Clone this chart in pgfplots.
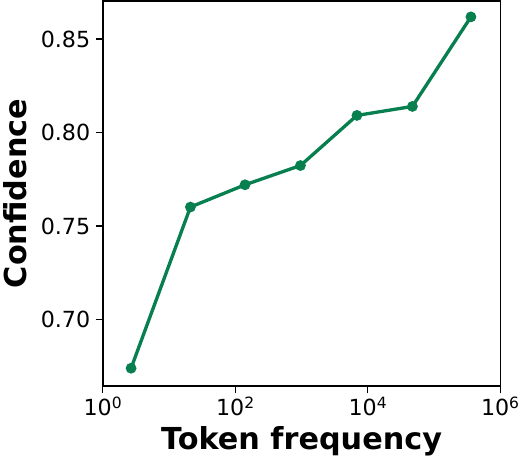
\documentclass[border=0pt]{standalone}
\usepackage{pgfplots}
\pgfplotsset{compat=1.18}
\usepackage{fontspec}
\setmainfont{DejaVu Sans}
\definecolor{lc}{HTML}{077F4F}
\begin{document}
\begin{tikzpicture}
\begin{axis}[
  scale only axis,
  width=394pt, height=382pt,
  xmode=log,
  xmin=1, xmax=1e6,
  ymin=0.6644, ymax=0.8705,
  xtick={1,1e2,1e4,1e6},
  xticklabels={10\textsuperscript{0},10\textsuperscript{2},10\textsuperscript{4},10\textsuperscript{6}},
  minor xtick={},
  ytick={0.70,0.75,0.80,0.85},
  yticklabels={0.70,0.75,0.80,0.85},
  tick style={black, line width=1.3pt},
  major tick length=7pt,
  tick align=outside,
  xtick pos=bottom, ytick pos=left,
  axis line style={line width=1.6pt},
  tick label style={font=\fontsize{22}{26}\selectfont},
  yticklabel style={xshift=-2pt},
  xlabel={\textbf{Token frequency}},
  ylabel={\textbf{Confidence}},
  label style={font=\fontsize{30}{36}\selectfont},
  xlabel style={yshift=-3pt},
  ylabel style={yshift=7pt},
]
\addplot[color=lc, line width=3.3pt, mark=*, mark size=3.6pt, mark options={solid, fill=lc, draw=lc}]
coordinates {
(2.67,0.674)
(21,0.7602)
(140,0.7721)
(962,0.7824)
(6850,0.8092)
(47100,0.8140)
(360000,0.8619)
};
\end{axis}
\end{tikzpicture}
\end{document}
